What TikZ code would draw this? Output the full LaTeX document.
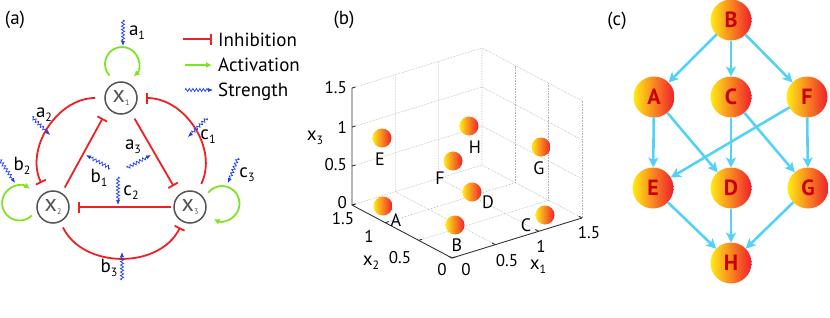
\documentclass[tikz,border=0pt]{standalone}
\usepackage{fontspec}
\setmainfont{PT Sans}
\usetikzlibrary{arrows.meta,positioning,decorations.pathmorphing}
\definecolor{inhred}{RGB}{238,32,36}
\definecolor{actgreen}{RGB}{128,226,40}
\definecolor{strblue}{RGB}{30,60,235}
\definecolor{edgeblue}{RGB}{84,210,246}
\definecolor{ballred}{RGB}{240,30,45}
\definecolor{ballorange}{RGB}{255,150,20}
\definecolor{ballyellow}{RGB}{255,236,20}
\definecolor{letred}{RGB}{205,0,10}
\definecolor{genegray}{RGB}{85,85,85}
\newcommand{\lsub}[1]{\raisebox{-4pt}{\fontsize{12}{12}\selectfont #1}}
\newcommand{\gsub}[1]{\raisebox{-3pt}{\fontsize{8}{8}\selectfont #1}}
\tikzset{
  gene/.style={circle,draw=genegray,line width=1.5pt,fill=white,minimum size=32pt,
    inner sep=0pt,text=genegray,font=\fontsize{24}{24}\selectfont},
  inh/.style={draw=inhred,line width=1.8pt,-{Bar[width=11pt]}},
  act/.style={draw=actgreen,line width=1.8pt,-{Latex[length=6pt,width=6pt]}},
  strength/.style={draw=strblue,line width=0.7pt,-{Latex[length=5pt,width=4pt]},decorate,
    decoration={zigzag,amplitude=1.6pt,segment length=3.5pt,post length=5pt}},
  lab/.style={inner sep=0pt,font=\fontsize{19}{19}\selectfont},
  grid3/.style={draw=black!30,densely dotted,line width=0.6pt},
  axis3/.style={draw=black!80,line width=0.9pt},
  tick/.style={inner sep=0pt,font=\fontsize{17}{17}\selectfont},
  ball/.style={circle,minimum size=19pt,inner sep=0pt,shading=axis,
    left color=ballyellow,middle color=ballorange,right color=ballred},
  bnode/.style={circle,minimum size=41pt,inner sep=0pt,outer sep=0pt,shading=axis,
    left color=ballyellow,middle color=ballorange,right color=ballred,
    text=letred,font=\fontsize{22}{22}\selectfont\bfseries},
  edg/.style={draw=edgeblue,line width=2.6pt,-{Stealth[length=10pt,width=10pt,inset=2.5pt]}},
}
\begin{document}
\begin{tikzpicture}[x=1pt,y=1pt,font=\fontsize{19}{19}\selectfont]
  \useasboundingbox (0,0) rectangle (830,317);

  % (a) three genes
  \node[lab] (pa) at (15,297) {(a)};
  \node[gene] (x1) at (121,219) {x\gsub{1}};
  \node[gene] (x2) at (53,110) {x\gsub{2}};
  \node[gene] (x3) at (190,110) {x\gsub{3}};
  \draw[inh,shorten <=9pt,shorten >=10pt] (x1) to[out=180,in=116,looseness=1.1] (x2);
  \draw[inh,shorten <=6pt,shorten >=6pt] (x2) to[out=296,in=244,looseness=1.1] (x3);
  \draw[inh,shorten <=9pt,shorten >=8pt] (x3) to[out=64,in=0,looseness=1.1] (x1);
  \draw[inh,shorten <=6pt,shorten >=11pt] (x2.58) -- (x1.219);
  \draw[inh,shorten <=8pt,shorten >=10pt] (x1.305) -- (x3.133);
  \draw[inh,shorten <=2pt,shorten >=8pt] (x3) -- (x2);
  % self activation loops
  \draw[act] (x1.center) ++(117:25.1) arc[start angle=223,end angle=-47,radius=17];
  \draw[act] (x2.center) ++(202:22.9) arc[start angle=-46,end angle=-306,radius=17.5];
  \draw[act] (x3.center) ++(38:23.1) arc[start angle=142,end angle=-118,radius=17.5];
  \foreach \n/\sx/\sy/\ex/\ey in {a1/123/297/123/271, a2/32/200/50/182, c1/207/199/188/180,
      b2/0/157/15/134, c3/238/159/228/134, b1/110/149/86/162, a3/127/149/151/162,
      c2/118/140/118/112, b3/122/37/122/65} {
    \coordinate (s\n) at (\sx,\sy);
    \coordinate (e\n) at (\ex,\ey);
    \draw[strength] (s\n) -- (e\n);
  }
  \node[lab] (la1) at (137,284) {a\lsub{1}};
  \node[lab] (la2) at (44,202) {a\lsub{2}};
  \node[lab] (la3) at (133,170) {a\lsub{3}};
  \node[lab] (lb1) at (99,139) {b\lsub{1}};
  \node[lab] (lb2) at (22,151) {b\lsub{2}};
  \node[lab] (lb3) at (109,49) {b\lsub{3}};
  \node[lab] (lc1) at (208,180) {c\lsub{1}};
  \node[lab] (lc2) at (131,124) {c\lsub{2}};
  \node[lab] (lc3) at (247,142) {c\lsub{3}};
  % legend
  \coordinate (ki0) at (183,278); \coordinate (ki1) at (212,278);
  \coordinate (ka0) at (185,252); \coordinate (ka1) at (212,252);
  \coordinate (ks0) at (185,227); \coordinate (ks1) at (213,227);
  \draw[inh] (ki0) -- (ki1);
  \draw[act] (ka0) -- (ka1);
  \draw[strength] (ks0) -- (ks1);
  \node[lab,anchor=base west] (tinh) at (218,270.3) {Inhibition};
  \node[lab,anchor=base west] (tact) at (218,245.3) {Activation};
  \node[lab,anchor=base west] (tstr) at (218,220.3) {Strength};

  % (b) state space
  \node[lab] (pb) at (344,297) {(b)};
  \begin{scope}[shift={(452,59)},x={(86.7pt,26.7pt)},y={(-66.7pt,35.3pt)},z={(0pt,78pt)}]
    \foreach \t in {0.5,1,1.5} {
      \draw[grid3] (\t,0,0) -- (\t,1.5,0) -- (\t,1.5,1.5);
      \draw[grid3] (0,\t,0) -- (1.5,\t,0);
      \draw[grid3] (0,1.5,\t) -- (1.5,1.5,\t) -- (1.5,0,\t);
    }
    \foreach \t in {0,0.5,1} \draw[grid3] (1.5,\t,0) -- (1.5,\t,1.5);
    \draw[axis3] (0,1.5,1.5) -- (0,1.5,0) -- (0,0,0) -- (1.5,0,0);
    \foreach \t in {0,0.5,1,1.5} {
      \draw[axis3] (0,1.5,\t) -- (0.04,1.5,\t);
      \draw[axis3] (0,\t,0) -- (0.04,\t,0);
      \draw[axis3] (\t,0,0) -- (\t,0.05,0);
    }
  \end{scope}
  \foreach \v/\y [count=\i] in {0/114,0.5/152,1/190,1.5/229}
    \node[tick,anchor=east] (tz\i) at (347,\y) {\v};
  \foreach \v/\x/\y [count=\i] in {0/442/47,0.5/400/59,1/369/81,1.5/343/98}
    \node[tick] (ty\i) at (\x,\y) {\v};
  \foreach \v/\x/\y [count=\i] in {0/466/47,0.5/507/56,1/541/71,1.5/589/84}
    \node[tick] (tx\i) at (\x,\y) {\v};
  \node[lab] (ax3) at (315,179) {x\lsub{3}};
  \node[lab] (ax2) at (371,54) {x\lsub{2}};
  \node[lab] (ax1) at (538,50) {x\lsub{1}};
  \foreach \n/\x/\y/\lx/\ly in {E/382/179/380/158, H/469/191/475/170, G/541/170/539/149,
      F/453/156/440/139, D/472/125/488/115, A/383/111/396/97, B/455/92/457/72, C/545/102/526/92} {
    \node[ball] (p\n) at (\x,\y) {};
    \node[tick,font=\fontsize{18}{18}\selectfont] (l\n) at (\lx,\ly) {\n};
  }

  % (c) transition graph
  \node[lab] (pc) at (617,296) {(c)};
  \node[bnode] (cB) at (731,297) {B};
  \node[bnode,below=36pt of cB] (cC) {C};
  \node[bnode,left=36pt of cC] (cA) {A};
  \node[bnode,right=35pt of cC] (cF) {F};
  \node[bnode,below=50pt of cC] (cD) {D};
  \node[bnode,left=37pt of cD] (cE) {E};
  \node[bnode,right=36pt of cD] (cG) {G};
  \node[bnode,below=34pt of cD] (cH) {H};
  \foreach \s/\t in {B/A,B/C,B/F,A/E,A/D,C/D,C/G,F/E,F/G,E/H,D/H,G/H}
    \draw[edg] (c\s) -- (c\t);
\end{tikzpicture}
\end{document}
